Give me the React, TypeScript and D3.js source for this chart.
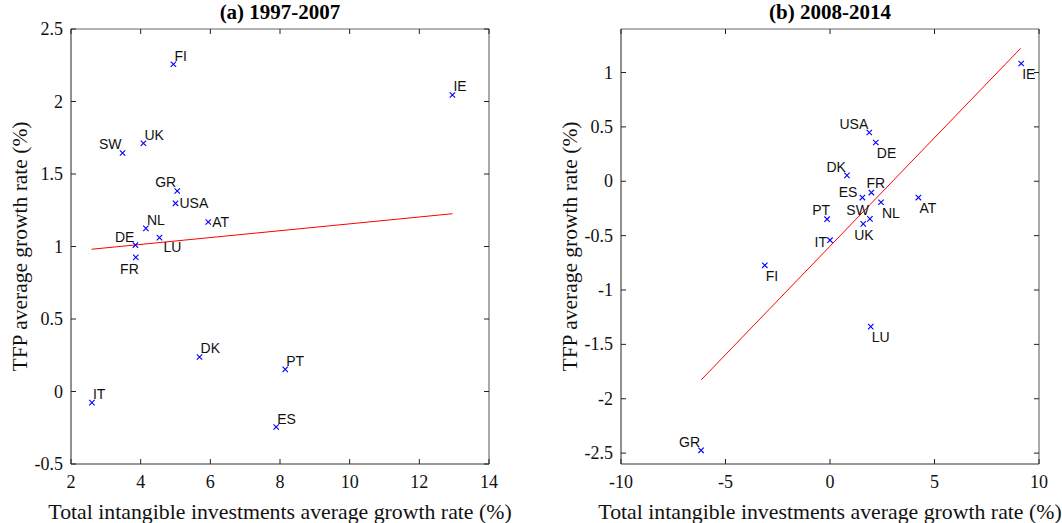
import React from 'react';
import * as d3 from 'd3';

// panel (a) 1997-2007
const countriesA = ['FI', 'IE', 'UK', 'SW', 'GR', 'USA', 'AT', 'NL', 'LU', 'DE', 'FR', 'DK', 'PT', 'IT', 'ES'];
const intangA = [4.94, 12.95, 4.08, 3.48, 5.05, 5.0, 5.94, 4.15, 4.54, 3.85, 3.86, 5.69, 8.15, 2.6, 7.89];
const tfpA = [2.257, 2.045, 1.712, 1.645, 1.383, 1.298, 1.169, 1.125, 1.061, 1.01, 0.925, 0.238, 0.153, -0.077, -0.245];
const fitXA = [2.59, 12.95];
const fitYA = [0.981, 1.226];
const xTicksA = [2, 4, 6, 8, 10, 12, 14];
const yTicksA = [-0.5, 0, 0.5, 1, 1.5, 2, 2.5];

// panel (b) 2008-2014
const countriesB = ['IE', 'USA', 'DE', 'DK', 'FR', 'ES', 'AT', 'NL', 'PT', 'SW', 'UK', 'IT', 'FI', 'LU', 'GR'];
const intangB = [9.15, 1.88, 2.19, 0.81, 1.98, 1.55, 4.23, 2.44, -0.14, 1.91, 1.59, 0.0, -3.12, 1.95, -6.17];
const tfpB = [1.083, 0.448, 0.356, 0.054, -0.104, -0.15, -0.15, -0.193, -0.349, -0.346, -0.392, -0.542, -0.773, -1.337, -2.474];
const fitXB = [-6.16, 9.12];
const fitYB = [-1.826, 1.222];
const xTicksB = [-10, -5, 0, 5, 10];
const yTicksB = [-2.5, -2, -1.5, -1, -0.5, 0, 0.5, 1];

const xLabel = 'Total intangible investments average growth rate (%)';
const yLabel = 'TFP average growth rate (%)';

// label placement relative to the marker: [text-anchor, dx, dy]
const place: Record<string, [string, number, number]> = {
  ne: ['start', 1, -3.5],
  nw: ['end', -1, -3.5],
  se: ['start', 1, 15.5],
  e: ['start', 4, 5],
};
const labelPosA: Record<string, [string, number, number]> = {
  FI: place.ne, IE: place.ne, UK: place.ne, SW: place.nw, GR: place.nw, USA: place.e, AT: place.e,
  NL: place.ne, LU: ['start', 4, 14.5], DE: place.nw, FR: ['end', 3, 17], DK: place.ne, PT: place.ne,
  IT: place.ne, ES: place.ne,
};
const labelPosB: Record<string, [string, number, number]> = {
  IE: place.se, USA: place.nw, DE: place.se, DK: place.nw, FR: ['start', -5, -5], ES: ['end', -5, -1],
  AT: place.se, NL: place.se, PT: ['end', 3, -4], SW: place.nw, UK: ['start', -9, 16], IT: ['end', -3, 6.5],
  FI: place.se, LU: place.se, GR: place.nw,
};

const serif = '"Liberation Serif", "Times New Roman", serif';
const sans = '"Liberation Sans", Arial, sans-serif';

type PanelProps = {
  title: string;
  left: number;
  right: number;
  top: number;
  bottom: number;
  xDomain: [number, number];
  yDomain: [number, number];
  xTicks: number[];
  yTicks: number[];
  names: string[];
  xs: number[];
  ys: number[];
  fitX: number[];
  fitY: number[];
  labelPos: Record<string, [string, number, number]>;
};

const Panel = (p: PanelProps) => {
  const x = d3.scaleLinear().domain(p.xDomain).range([p.left, p.right]);
  const y = d3.scaleLinear().domain(p.yDomain).range([p.bottom, p.top]);
  const tick = 5;
  const line = d3
    .line<number>()
    .x((d) => x(d))
    .y((d, i) => y(p.fitY[i]));
  const cx = (p.left + p.right) / 2;
  const cy = (p.top + p.bottom) / 2;

  return (
    <g>
      <text x={cx} y={19} textAnchor="middle" fontFamily={serif} fontWeight="bold" fontSize={21}>
        {p.title}
      </text>
      {/* frame */}
      <line x1={p.left} x2={p.right} y1={p.top} y2={p.top} stroke="#666" />
      <line x1={p.right} x2={p.right} y1={p.top} y2={p.bottom} stroke="#555" />
      <line x1={p.left} x2={p.right} y1={p.bottom} y2={p.bottom} stroke="#333" />
      <line x1={p.left} x2={p.left} y1={p.top} y2={p.bottom} stroke="#222" />
      {p.xTicks.map((t) => (
        <g key={'x' + t}>
          <line x1={x(t)} x2={x(t)} y1={p.bottom} y2={p.bottom - tick} stroke="#222" />
          <line x1={x(t)} x2={x(t)} y1={p.top} y2={p.top + tick} stroke="#222" />
          <text x={x(t)} y={p.bottom + 24} textAnchor="middle" fontFamily={serif} fontSize={18} fill="#111">
            {String(t)}
          </text>
        </g>
      ))}
      {p.yTicks.map((t) => (
        <g key={'y' + t}>
          <line x1={p.left} x2={p.left + tick} y1={y(t)} y2={y(t)} stroke="#222" />
          <line x1={p.right} x2={p.right - tick} y1={y(t)} y2={y(t)} stroke="#222" />
          <text x={p.left - 8} y={y(t) + 6} textAnchor="end" fontFamily={serif} fontSize={18} fill="#111">
            {String(t)}
          </text>
        </g>
      ))}
      <text x={cx} y={519} textAnchor="middle" fontFamily={serif} fontSize={21.8} fill="#111">
        {xLabel}
      </text>
      <text
        transform={`translate(${p.left - 44},${cy}) rotate(-90)`}
        textAnchor="middle"
        fontFamily={serif}
        fontSize={21.5}
        fill="#111"
      >
        {yLabel}
      </text>
      <path d={line(p.fitX) || ''} stroke="#ff0000" strokeWidth={1} fill="none" />
      {p.names.map((n, i) => {
        const px = x(p.xs[i]);
        const py = y(p.ys[i]);
        const [anchor, dx, dy] = p.labelPos[n];
        const s = 2.7;
        return (
          <g key={n}>
            <path
              d={`M${px - s},${py - s}L${px + s},${py + s}M${px - s},${py + s}L${px + s},${py - s}`}
              stroke="#0000ff"
              strokeWidth={1.1}
            />
            <text x={px + dx} y={py + dy} textAnchor={anchor} fontFamily={sans} fontSize={14} fill="#111">
              {n}
            </text>
          </g>
        );
      })}
    </g>
  );
}

export default function App() {
  return (
    <svg
      width={1062}
      height={523}
      style={{ position: 'absolute', left: 0, top: 0, background: '#fff' }}
    >
      <Panel
        title="(a) 1997-2007"
        left={71}
        right={489}
        top={29}
        bottom={464}
        xDomain={[2, 14]}
        yDomain={[-0.5, 2.5]}
        xTicks={xTicksA}
        yTicks={yTicksA}
        names={countriesA}
        xs={intangA}
        ys={tfpA}
        fitX={fitXA}
        fitY={fitYA}
        labelPos={labelPosA}
      />
      <Panel
        title="(b) 2008-2014"
        left={621}
        right={1039}
        top={29}
        bottom={464}
        xDomain={[-10, 10]}
        yDomain={[-2.6, 1.4]}
        xTicks={xTicksB}
        yTicks={yTicksB}
        names={countriesB}
        xs={intangB}
        ys={tfpB}
        fitX={fitXB}
        fitY={fitYB}
        labelPos={labelPosB}
      />
    </svg>
  );
}
